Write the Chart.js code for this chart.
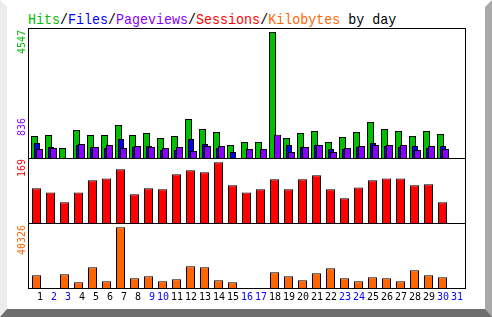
<!DOCTYPE html>
<html>
<head>
<meta charset="utf-8">
<script src="https://cdn.jsdelivr.net/npm/chart.js@4.4.0/dist/chart.umd.min.js"></script>
<style>
  html, body { margin: 0; padding: 0; background: #fff; }
  #page { position: relative; width: 492px; height: 317px; overflow: hidden; }
  #bevel {
    position: absolute; left: 0; top: 0; width: 492px; height: 317px; box-sizing: border-box;
    border-left: 7px solid #ececec; border-top: 7px solid #fff;
    border-right: 7px solid #a8a8a8; border-bottom: 8px solid #6e6e6e;
  }
  canvas { position: absolute; left: 0; }
  #title {
    position: absolute; left: 28px; top: 12.5px; white-space: nowrap;
    font: 15px 'Liberation Mono', monospace; line-height: 15px;
    transform: scaleX(0.889); transform-origin: 0 0;
  }
  .vlab {
    position: absolute; white-space: nowrap;
    font: 10px 'DejaVu Sans Mono', monospace; line-height: 10px;
    transform: rotate(-90deg); transform-origin: 0 0;
  }
  #box { position: absolute; left: 28px; top: 28px; width: 438px; height: 261px;
    box-sizing: border-box; border: 1px solid #000; }
  .sep { position: absolute; left: 28px; width: 438px; height: 1px; background: #000; }
</style>
</head>
<body>
<div id="page">
  <div id="bevel"></div>
  <div id="title"><span style="color:#00c000">Hits</span>/<span style="color:#0000ff">Files</span>/<span style="color:#8800ff">Pageviews</span>/<span style="color:#ff0000">Sessions</span>/<span style="color:#ff6600">Kilobytes</span> by day</div>

  <canvas id="c-top" width="492" height="130" style="top:28px"></canvas>
  <canvas id="c-mid" width="492" height="65" style="top:158px"></canvas>
  <canvas id="c-bot" width="492" height="85" style="top:223px"></canvas>

  <div id="box"></div>
  <div class="sep" style="top:158px"></div>
  <div class="sep" style="top:223px"></div>

  <span class="vlab" id="l-hits"  style="left:17.1px; top:54px;    color:#00c000"></span>
  <span class="vlab" id="l-pages" style="left:17.1px; top:135.5px; color:#8800ff"></span>
  <span class="vlab" id="l-sess"  style="left:17.1px; top:177px;   color:#ff0000"></span>
  <span class="vlab" id="l-kb"    style="left:17.1px; top:254.5px; color:#ff6600"></span>
</div>

<script>
// day-of-month categories, weekends drawn in blue
const days = [1,2,3,4,5,6,7,8,9,10,11,12,13,14,15,16,17,18,19,20,21,22,23,24,25,26,27,28,29,30,31];
const weekendDays = [2,3,9,10,16,17,23,24,30,31];

const hits     = [794, 830, 361, 1011, 830, 830, 1191, 830, 902, 722, 794, 1408, 1047, 938, 469, 577, 577, 4547, 722, 902, 974, 577, 758, 938, 1299, 1047, 974, 794, 974, 866, 0];
const files    = [541, 397, 0, 469, 397, 361, 686, 397, 433, 289, 289, 686, 505, 361, 217, 0, 0, 0, 469, 397, 469, 325, 325, 397, 541, 433, 397, 433, 361, 433, 0];
const pages    = [325, 361, 0, 505, 397, 469, 361, 433, 397, 361, 397, 253, 433, 433, 0, 325, 325, 836, 217, 397, 469, 217, 361, 433, 469, 469, 469, 289, 433, 325, 0];
const sessions = [97, 85, 58, 85, 119, 124, 150, 80, 97, 94, 136, 147, 141, 169, 105, 85, 94, 122, 94, 122, 133, 94, 69, 99, 119, 124, 124, 105, 108, 58, 0];
const kbytes   = [8437, 0, 9101, 3787, 13751, 4451, 40326, 6444, 7772, 4451, 5779, 14415, 13751, 5115, 3787, 0, 0, 10430, 7772, 5115, 9765, 13087, 6444, 4451, 7108, 6444, 4451, 11758, 8437, 7108, 0];

const C = { green: '#00c000', blue: '#0000ff', purple: '#8800ff', red: '#ff0000', orange: '#ff6600' };

Chart.defaults.font.family = "'DejaVu Sans Mono', monospace";
Chart.defaults.animation = false;

// draw datasets first-to-last so the later bars overlap the earlier ones
const drawInOrder = {
  id: 'drawInOrder',
  beforeDatasetsDraw(chart) {
    chart.data.datasets.forEach((ds, i) => chart.getDatasetMeta(i).controller.draw());
    return false;
  }
};

function panelOptions(yMax, padLeft, xAxis) {
  return {
    responsive: false,
    maintainAspectRatio: false,
    events: [],
    layout: { padding: { left: padLeft, right: 492 - padLeft - 434, top: 0, bottom: 0 } },
    plugins: { legend: { display: false }, tooltip: { enabled: false } },
    scales: {
      x: xAxis || { display: false },
      y: { display: false, min: 0, max: yMax }
    }
  };
}

function bar(label, data, color, catPct, barPct) {
  return {
    label, data,
    backgroundColor: color,
    borderColor: '#000',
    borderWidth: 1,
    categoryPercentage: catPct,
    barPercentage: barPct,
  };
}

// hits / files / pageviews, overlapping bars
new Chart(document.getElementById('c-top'), {
  type: 'bar',
  data: {
    labels: days,
    datasets: [
      bar('Hits',      hits,  C.green,  7.5 / 14, 2.8),
      bar('Files',     files, C.blue,   7.5 / 14, 2.4),
      bar('Pageviews', pages, C.purple, 7.5 / 14, 2.8),
    ]
  },
  options: panelOptions(4691, 30),
  plugins: [drawInOrder]
});

// sessions
new Chart(document.getElementById('c-mid'), {
  type: 'bar',
  data: { labels: days, datasets: [ bar('Sessions', sessions, C.red, 1, 9 / 14) ] },
  options: panelOptions(181, 29.5)
});

// kilobytes + day labels
new Chart(document.getElementById('c-bot'), {
  type: 'bar',
  data: { labels: days, datasets: [ bar('Kilobytes', kbytes, C.orange, 1, 9 / 14) ] },
  options: panelOptions(43204, 29.5, {
    grid: { display: false, drawTicks: false },
    border: { display: false },
    afterFit: s => { s.height = 20; },
    ticks: {
      autoSkip: false,
      maxRotation: 0,
      padding: 3.5,
      labelOffset: 0.5,
      font: { size: 10 },
      color: ctx => weekendDays.includes(days[ctx.index]) ? '#0000ff' : '#000',
      callback: (v, i) => String(days[i]).padStart(2, ' ')
    }
  })
});

document.getElementById('l-hits').textContent  = Math.max(...hits);
document.getElementById('l-pages').textContent = Math.max(...pages);
document.getElementById('l-sess').textContent  = Math.max(...sessions);
document.getElementById('l-kb').textContent    = Math.max(...kbytes);
</script>
</body>
</html>
